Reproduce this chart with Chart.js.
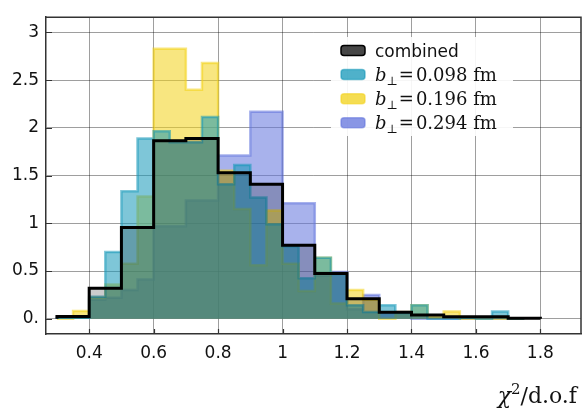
<!DOCTYPE html>
<html>
<head>
<meta charset="utf-8">
<script src="https://cdn.jsdelivr.net/npm/chart.js@4.4.1/dist/chart.umd.min.js"></script>
<style>
  html, body { margin: 0; padding: 0; background: #ffffff; }
  #wrap { width: 582px; height: 410px; position: relative; }
</style>
</head>
<body>
<div id="wrap"><canvas id="chi2-chart"></canvas></div>
<script>
// bins of width 0.05 (left edges + last right edge)
const fineEdges = [0.30, 0.35, 0.40, 0.45, 0.50, 0.55, 0.60, 0.65, 0.70, 0.75,
  0.80, 0.85, 0.90, 0.95, 1.00, 1.05, 1.10, 1.15, 1.20, 1.25,
  1.30, 1.35, 1.40, 1.45, 1.50, 1.55, 1.60, 1.65, 1.70, 1.75];
// bins of width 0.1 for the combined histogram
const combinedEdges = [0.3, 0.4, 0.5, 0.6, 0.7, 0.8, 0.9, 1.0, 1.1, 1.2, 1.3, 1.4, 1.5, 1.6, 1.7, 1.8];

const combinedValues = [0.023, 0.32, 0.955, 1.865, 1.89, 1.53, 1.41, 0.77, 0.475, 0.21,
  0.067, 0.04, 0.02, 0.02, 0.004];
const b098Values = [0.01, 0.01, 0.23, 0.70, 1.335, 1.89, 1.965, 1.85, 1.85, 2.115,
  1.41, 1.61, 1.27, 0.99, 0.76, 0.425, 0.64, 0.47, 0.14, 0.07,
  0.14, 0.06, 0.14, 0.0, 0.0, 0.01, 0.0, 0.077, 0.0];
const b196Values = [0.0, 0.08, 0.22, 0.36, 0.575, 1.28, 2.83, 2.83, 2.40, 2.68,
  1.55, 1.15, 0.56, 1.135, 0.575, 0.29, 0.64, 0.16, 0.30, 0.20,
  0.0, 0.07, 0.14, 0.02, 0.077, 0.0, 0.0, 0.0, 0.0];
const b294Values = [0.01, 0.01, 0.20, 0.22, 0.30, 0.41, 0.97, 0.97, 1.24, 1.24,
  1.71, 1.71, 2.17, 2.17, 1.21, 1.21, 0.45, 0.49, 0.10, 0.25,
  0.06, 0.07, 0.0, 0.0, 0.0, 0.0, 0.0, 0.0, 0.0];

const seriesLabels = ["combined", "b⊥=0.098 fm", "b⊥=0.196 fm", "b⊥=0.294 fm"];

const xTicks = [0.4, 0.6, 0.8, 1.0, 1.2, 1.4, 1.6, 1.8];
const xTickLabels = ["0.4", "0.6", "0.8", "1", "1.2", "1.4", "1.6", "1.8"];
const yTicks = [0, 0.5, 1, 1.5, 2, 2.5, 3];
const yTickLabels = ["0.", "0.5", "1", "1.5", "2", "2.5", "3"];

const fillColors = ["rgba(0,0,0,0.2)", "rgba(20,151,184,0.55)", "rgba(242,209,24,0.55)", "rgba(97,115,220,0.55)"];
const legendFill = ["rgba(0,0,0,0.72)", "rgba(20,151,184,0.75)", "rgba(242,209,24,0.75)", "rgba(97,115,220,0.75)"];

Chart.defaults.font.family = "DejaVu Sans";
Chart.defaults.color = "#111";

// step outline of a histogram, dropping to zero at both ends
function toSteps(edges, values) {
  const pts = [{ x: edges[0], y: 0 }];
  values.forEach((v, i) => pts.push({ x: edges[i], y: v }));
  pts.push({ x: edges[edges.length - 1], y: 0 });
  return pts;
}

function histDataset(label, edges, values, color, border, width) {
  return {
    label: label,
    data: toSteps(edges, values),
    stepped: true,
    fill: "origin",
    backgroundColor: color,
    borderColor: border,
    borderWidth: width,
    borderJoinStyle: "miter",
    pointRadius: 0,
  };
}

function drawMathLabel(ctx, text, x, y) {
  // "b⊥=..." drawn as italic b with a subscript perp
  if (!text.startsWith("b⊥")) {
    ctx.font = "17px 'DejaVu Sans'";
    ctx.fillText(text, x, y);
    return;
  }
  ctx.font = "italic 18px 'DejaVu Serif'";
  ctx.fillText("b", x, y);
  x += ctx.measureText("b").width;
  ctx.font = "12px 'DejaVu Serif'";
  ctx.fillText("⊥", x, y + 4);
  x += ctx.measureText("⊥").width + 1;
  ctx.font = "18px 'DejaVu Serif'";
  ctx.fillText("=", x, y);
  x += ctx.measureText("=").width + 2;
  ctx.fillText(text.slice(3), x, y);
}

const legendBox = {
  id: "legendBox",
  afterDatasetsDraw(chart) {
    const ctx = chart.ctx;
    ctx.save();
    ctx.fillStyle = "rgba(255,255,255,0.9)";
    ctx.beginPath();
    ctx.roundRect(331, 37, 182, 99, 4);
    ctx.fill();
    chart.data.datasets.forEach((ds, i) => {
      const cy = 50.5 + i * 24.1;
      ctx.fillStyle = legendFill[i];
      ctx.strokeStyle = i === 0 ? "#000" : ds.borderColor;
      ctx.lineWidth = 1.5;
      ctx.beginPath();
      ctx.roundRect(341, cy - 5, 24, 10, 3);
      ctx.fill();
      ctx.stroke();
      ctx.fillStyle = "#111";
      ctx.textBaseline = "alphabetic";
      drawMathLabel(ctx, ds.label, 375, cy + 6);
    });
    ctx.restore();
  },
};

const frameAndTitle = {
  id: "frameAndTitle",
  afterDraw(chart) {
    const ctx = chart.ctx;
    const a = chart.chartArea;
    const xs = chart.scales.x;
    const ys = chart.scales.y;
    ctx.save();
    ctx.strokeStyle = "#333";
    ctx.lineWidth = 1.5;
    ctx.beginPath();
    ctx.moveTo(a.left, a.top);
    ctx.lineTo(a.right, a.top);
    ctx.lineTo(a.right, a.bottom);
    ctx.stroke();
    // inward ticks
    ctx.lineWidth = 1.2;
    ctx.beginPath();
    xTicks.forEach((v) => {
      const px = Math.round(xs.getPixelForValue(v)) + 0.5;
      ctx.moveTo(px, a.bottom);
      ctx.lineTo(px, a.bottom - 5);
    });
    yTicks.forEach((v) => {
      const py = Math.round(ys.getPixelForValue(v)) + 0.5;
      ctx.moveTo(a.left, py);
      ctx.lineTo(a.left + 6, py);
    });
    ctx.stroke();

    // axis title  χ²/d.o.f
    ctx.fillStyle = "#111";
    ctx.textBaseline = "alphabetic";
    const base = 403;
    ctx.font = "22px 'DejaVu Serif'";
    const tail = "/d.o.f";
    const wTail = ctx.measureText(tail).width;
    ctx.font = "15px 'DejaVu Serif'";
    const wSup = ctx.measureText("2").width;
    ctx.font = "italic 22px 'DejaVu Serif'";
    const wChi = ctx.measureText("χ").width;
    let x = 577 - wTail - wSup - wChi;
    ctx.fillText("χ", x, base);
    x += wChi;
    ctx.font = "15px 'DejaVu Serif'";
    ctx.fillText("2", x, base - 9);
    x += wSup;
    ctx.font = "22px 'DejaVu Serif'";
    ctx.fillText(tail, x, base);
    ctx.restore();
  },
};

const chart = new Chart(document.getElementById("chi2-chart"), {
  type: "line",
  data: {
    datasets: [
      histDataset(seriesLabels[0], combinedEdges, combinedValues, fillColors[0], "#000", 3),
      histDataset(seriesLabels[1], fineEdges, b098Values, fillColors[1], fillColors[1], 2.5),
      histDataset(seriesLabels[2], fineEdges, b196Values, fillColors[2], fillColors[2], 2.5),
      histDataset(seriesLabels[3], fineEdges, b294Values, fillColors[3], fillColors[3], 2.5),
    ],
  },
  options: {
    responsive: true,
    maintainAspectRatio: false,
    animation: false,
    layout: { padding: { top: 4, right: 1, left: 0, bottom: 0 } },
    plugins: {
      legend: { display: false },
      tooltip: { enabled: false },
    },
    scales: {
      x: {
        type: "linear",
        min: 0.266,
        max: 1.926,
        afterBuildTicks: (scale) => { scale.ticks = xTicks.map((v) => ({ value: v })); },
        afterFit: (scale) => { scale.height = 76; },
        ticks: {
          padding: 9,
          font: { size: 17 },
          maxRotation: 0,
          callback: (value, index) => xTickLabels[index],
        },
        grid: { color: "rgba(0,0,0,0.38)", lineWidth: 1, drawTicks: false },
        border: { color: "#333", width: 1.5 },
      },
      y: {
        min: -0.16,
        max: 3.16,
        afterBuildTicks: (scale) => { scale.ticks = yTicks.map((v) => ({ value: v })); },
        afterFit: (scale) => { scale.width = 46; },
        ticks: {
          padding: 7,
          font: { size: 17 },
          callback: (value, index) => yTickLabels[index],
        },
        grid: { color: "rgba(0,0,0,0.38)", lineWidth: 1, drawTicks: false },
        border: { color: "#333", width: 1.5 },
      },
    },
  },
  plugins: [legendBox, frameAndTitle],
});
</script>
</body>
</html>
